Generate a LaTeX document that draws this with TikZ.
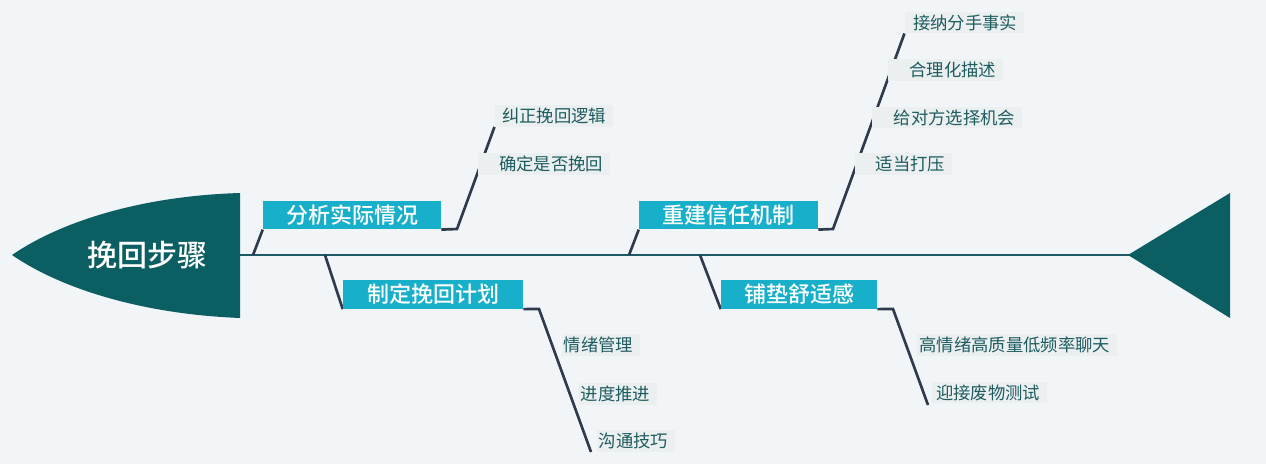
\documentclass[tikz,border=0pt]{standalone}
\usepackage{fontspec}
\setmainfont{Noto Sans CJK SC}
\newfontfamily\medfont{Noto Sans CJK SC Medium}
\definecolor{bgc}{HTML}{F1F5F8}
\definecolor{fishteal}{HTML}{0B5E62}
\definecolor{spinec}{HTML}{1C5A66}
\definecolor{connc}{HTML}{2F3B4C}
\definecolor{boxc}{HTML}{17AFC9}
\definecolor{subfill}{HTML}{ECEFF0}
\definecolor{subtext}{HTML}{1E5C60}
\pgfdeclarelayer{back}
\pgfdeclarelayer{background}
\pgfsetlayers{back,background,main}
\newcommand\sublab[2]{\makebox[#1][r]{#2\hspace{5pt}}}
\tikzset{
  headtext/.style={text=white, font=\fontsize{22.5}{26}\selectfont\medfont, inner sep=0pt},
  branch/.style={fill=boxc, text=white, font=\fontsize{16.5}{19}\selectfont\medfont, minimum height=21.5pt, inner sep=0pt},
  sub/.style={fill=subfill, text=subtext, font=\fontsize{13}{15}\selectfont, inner xsep=0pt, inner ysep=0pt, minimum height=16pt, anchor=east},
  conn/.style={draw=connc, line width=2pt},
  spineline/.style={draw=spinec, line width=2.2pt}
}
\begin{document}
\begin{tikzpicture}[x=0.75pt,y=-0.75pt]
\begin{pgfonlayer}{back}
\fill[bgc] (0,0) rectangle (1266,464);
\end{pgfonlayer}
\useasboundingbox (0,0) rectangle (1266,464);

% head and tail
\fill[fishteal] (240,193) .. controls (140,196) and (60,222) .. (12,255) .. controls (60,288) and (140,314) .. (240,318) -- cycle;
\node[headtext] (head) at (147,255) {挽回步骤};
\fill[fishteal] (1128,255) -- (1230,193) -- (1230,318) -- cycle;

\coordinate (spineL) at (240,255);
\coordinate (spineR) at (1130,255);

% branch boxes
\node[branch, minimum width=133.5pt] (b1) at (352,215) {分析实际情况};
\node[branch, minimum width=135pt] (b2) at (433,294.5) {制定挽回计划};
\node[branch, minimum width=134.25pt] (b3) at (728.5,215) {重建信任机制};
\node[branch, minimum width=117pt] (b4) at (799,294.5) {铺垫舒适感};

% sub labels
\node[sub] (s1a) at (613,116) {\sublab{88.5pt}{纠正挽回逻辑}};
\node[sub] (s1b) at (610,164) {\sublab{99pt}{确定是否挽回}};
\node[sub] (s2a) at (640,345) {\sublab{58.5pt}{情绪管理}};
\node[sub] (s2b) at (657,394) {\sublab{58.5pt}{进度推进}};
\node[sub] (s2c) at (675,441) {\sublab{58.5pt}{沟通技巧}};
\node[sub] (s3a) at (1024,22.5) {\sublab{89.25pt}{接纳分手事实}};
\node[sub] (s3b) at (1003,70) {\sublab{86.25pt}{合理化描述}};
\node[sub] (s3c) at (1022,117.5) {\sublab{112.5pt}{给对方选择机会}};
\node[sub] (s3d) at (952,164) {\sublab{72.75pt}{适当打压}};
\node[sub] (s4a) at (1117,345) {\sublab{150pt}{高情绪高质量低频率聊天}};
\node[sub] (s4b) at (1047,392.5) {\sublab{86.25pt}{迎接废物测试}};

% junction coordinates
\coordinate (j1) at (253,255);
\coordinate (j2) at (325,255);
\coordinate (j3) at (629,255);
\coordinate (j4) at (700,255);
\coordinate (k1) at (457,229);
\coordinate (k2) at (539,309);
\coordinate (k3) at (833,229);
\coordinate (k4) at (893,309);
\coordinate (e2) at (591,452);
\coordinate (e4) at (928,405);

\begin{pgfonlayer}{background}
\draw[spineline] (spineL) -- (spineR);
\draw[conn] (j1) -- (b1.south west);
\draw[conn] (b1.south east) -- (k1) -- (s1a.south west);
\draw[conn] (j2) -- (b2.south west);
\draw[conn] (b2.south east) -- (k2) -- (e2);
\draw[conn] (j3) -- (b3.south west);
\draw[conn] (b3.south east) -- (k3) -- (s3a.south west);
\draw[conn] (j4) -- (b4.south west);
\draw[conn] (b4.south east) -- (k4) -- (e4);
\end{pgfonlayer}
\end{tikzpicture}
\end{document}
